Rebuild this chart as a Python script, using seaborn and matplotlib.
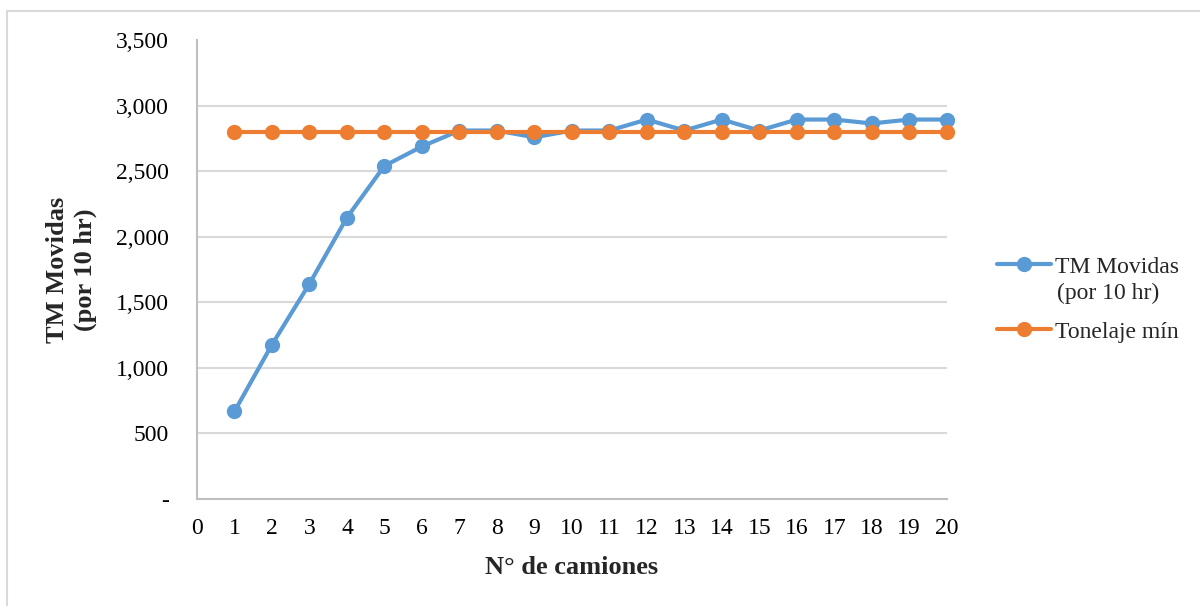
import matplotlib
matplotlib.use("Agg")
import matplotlib.pyplot as plt
import matplotlib.ticker as mticker
from matplotlib.patches import Rectangle
from matplotlib.lines import Line2D
import seaborn as sns
import pandas as pd

# ---- data ----
camiones = list(range(1, 21))
tm_movidas = [666, 1176, 1641, 2147, 2542, 2690, 2812, 2812, 2760, 2812,
              2812, 2896, 2812, 2896, 2812, 2896, 2896, 2866, 2896, 2896]
tonelaje_min = [2800] * 20
serie_labels = ["TM Movidas (por 10 hr)", "Tonelaje mín"]
x_ticks = list(range(0, 21))
y_ticks = [0, 500, 1000, 1500, 2000, 2500, 3000, 3500]

sns.set_theme(style="white")
plt.rcParams['font.family'] = ['Liberation Serif', 'DejaVu Serif']

BLUE = "#5B9BD5"
ORANGE = "#ED7D31"
GRID = "#D9D9D9"

df = pd.DataFrame({
    "x": camiones * 2,
    "y": tm_movidas + tonelaje_min,
    "serie": [serie_labels[0]] * 20 + [serie_labels[1]] * 20,
})

fig = plt.figure(figsize=(12, 6.06), dpi=100)
ax = fig.add_axes([197 / 1200, 1 - 498.5 / 606, (946.7 - 197) / 1200, (498.5 - 40.5) / 606])

sns.lineplot(data=df, x="x", y="y", hue="serie", hue_order=serie_labels,
             palette=[BLUE, ORANGE], marker="o", markersize=11, markeredgewidth=0,
             linewidth=3, ax=ax, legend=False, zorder=3, clip_on=False)

ax.set_xlim(0, 20)
ax.set_ylim(0, 3500)
ax.set_xticks(x_ticks)
ax.set_yticks(y_ticks)
ax.yaxis.set_major_formatter(mticker.FuncFormatter(lambda v, p: "-" if v == 0 else f"{int(v):,}"))
ax.tick_params(axis="x", labelsize=17, length=0, pad=14, colors="black")
ax.tick_params(axis="y", labelsize=17, length=0, pad=20, colors="black")
ax.grid(axis="y", color=GRID, linewidth=1.5)
ax.grid(axis="x", visible=False)
ax.set_axisbelow(True)
for s in ["top", "right"]:
    ax.spines[s].set_visible(False)
for s in ["left", "bottom"]:
    ax.spines[s].set_color("#BFBFBF")
    ax.spines[s].set_linewidth(1.5)

ax.set_xlabel("N° de camiones", fontsize=19, fontweight="bold", labelpad=12)
ax.set_ylabel("TM Movidas\n(por 10 hr)", fontsize=19, fontweight="bold", labelpad=14,
              linespacing=1.25)

# legend (first label wraps onto a second line, placed as text under it)
handles = [Line2D([], [], color=BLUE, marker="o", markersize=11, markeredgewidth=0, linewidth=3),
           Line2D([], [], color=ORANGE, marker="o", markersize=11, markeredgewidth=0, linewidth=3)]
leg_labels = ["TM Movidas", serie_labels[1]]
leg = fig.legend(handles, leg_labels, loc="upper left",
                 bbox_to_anchor=(997 / 1200, 1 - 256 / 606),
                 frameon=False, fontsize=17, handlelength=2.3, handletextpad=0.15,
                 labelspacing=1.85, borderpad=0, borderaxespad=0)
fig.text(1057 / 1200, 1 - 293 / 606, "(por 10 hr)", fontsize=17, ha="left", va="center")

# outer chart border
fig.patches.append(Rectangle((7 / 1200, -0.1), 1.2, (606 - 11) / 606 + 0.1,
                             transform=fig.transFigure, fill=False,
                             edgecolor=GRID, linewidth=1.5))

fig.savefig("out.png", dpi=100)
